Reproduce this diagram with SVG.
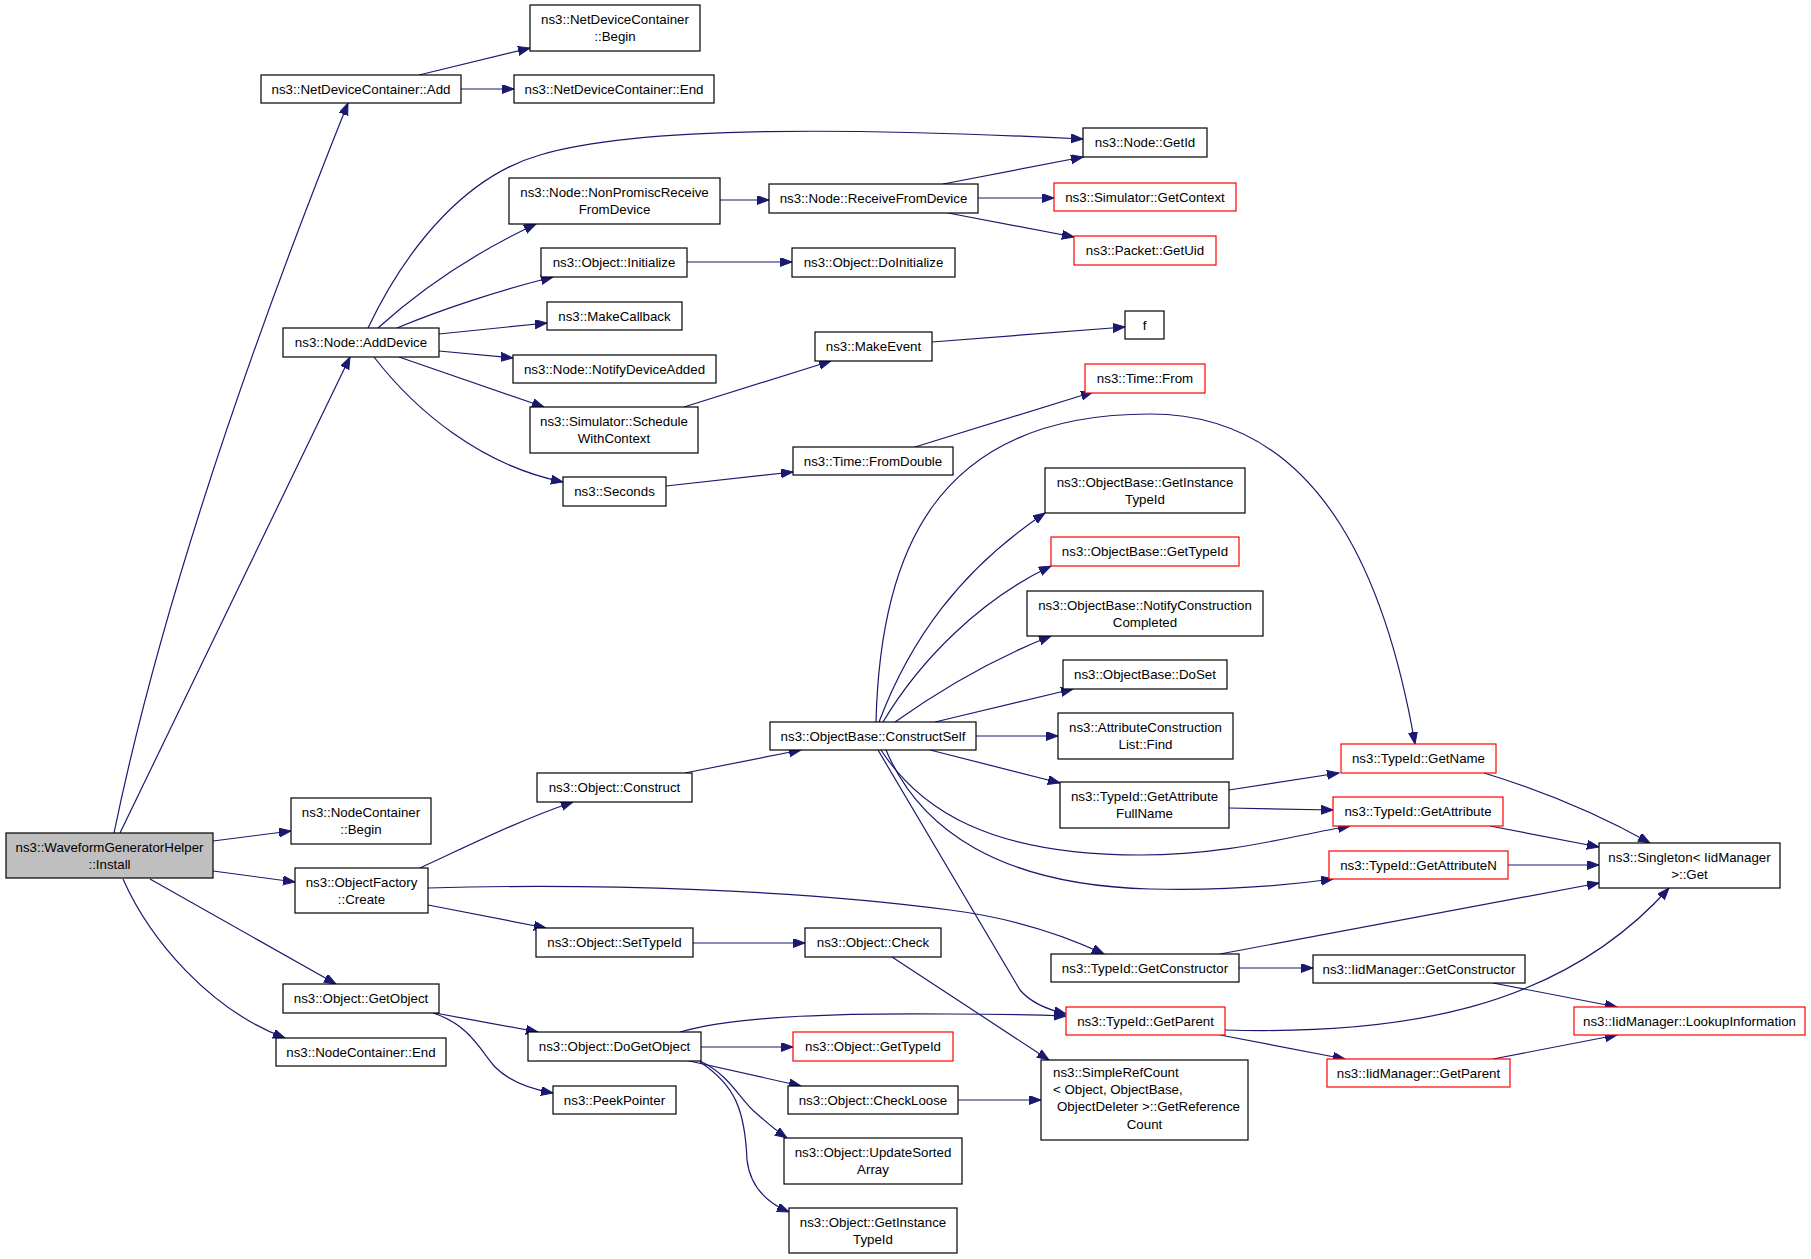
<svg xmlns="http://www.w3.org/2000/svg" width="1811" height="1259" viewBox="0 0 1811 1259">
<style>
rect{fill:#fff;stroke:#000;stroke-width:1.2}
rect.r{stroke:#ff0000}
rect.g{fill:#bfbfbf}
text{font-family:"Liberation Sans",Arial,sans-serif;font-size:13.3px;text-anchor:middle;fill:#000}
text.l{text-anchor:start}
#edges path{fill:none;stroke:#191970;stroke-width:1.2;marker-end:url(#a)}
</style>
<defs>
<marker id="a" markerWidth="13" markerHeight="10" refX="12" refY="4.5" orient="auto" markerUnits="userSpaceOnUse">
<path d="M0,0 L12,4.5 L0,9 z" fill="#191970" stroke="#191970" stroke-width="1"/>
</marker>
</defs>
<rect x="0" y="0" width="1811" height="1259" style="fill:#fff;stroke:none"/>
<g id="edges">
<path d="M114,833 C160,610 245,360 348,103"/>
<path d="M120,833 L350,357"/>
<path d="M213,841 L291,831"/>
<path d="M213,871 L295,882"/>
<path d="M150,879 L336,984"/>
<path d="M123,879 C150,940 210,1010 285,1038"/>
<path d="M368,328 C410,240 470,175 540,155 C640,125 860,128 1083,139"/>
<path d="M378,328 C420,290 470,255 536,224"/>
<path d="M397,328 C440,310 500,290 553,277"/>
<path d="M439,334 L547,323"/>
<path d="M439,351 L513,358"/>
<path d="M399,357 L544,407"/>
<path d="M374,357 C415,410 480,465 563,482"/>
<path d="M419,75 L530,48"/>
<path d="M461,89 L514,89"/>
<path d="M720,200 L769,200"/>
<path d="M943,184 L1083,157"/>
<path d="M978,198 L1054,198"/>
<path d="M948,213 L1074,237"/>
<path d="M687,262 L792,262"/>
<path d="M932,342 L1125,327"/>
<path d="M684,407 L831,361"/>
<path d="M666,486 L793,472"/>
<path d="M915,447 L1093,392"/>
<path d="M420,868 C470,845 520,820 573,802"/>
<path d="M428,905 L546,928"/>
<path d="M428,888 C600,883 800,890 950,910 C1020,919 1070,938 1104,954"/>
<path d="M685,773 L801,750"/>
<path d="M876,722 C880,560 930,414 1150,414 C1330,414 1390,600 1415,744"/>
<path d="M879,722 C910,640 960,570 1045,513"/>
<path d="M883,722 C920,660 980,600 1051,566"/>
<path d="M895,722 C940,690 990,660 1051,636"/>
<path d="M935,722 L1073,689"/>
<path d="M976,736 L1058,736"/>
<path d="M930,750 L1060,783"/>
<path d="M881,750 C920,810 990,855 1140,855 C1230,855 1290,836 1350,826"/>
<path d="M886,750 C920,830 1000,885 1150,889 C1230,891 1290,885 1333,879"/>
<path d="M878,750 L1020,990 C1030,1002 1045,1009 1066,1014"/>
<path d="M1229,790 L1339,773"/>
<path d="M1229,808 L1333,810"/>
<path d="M1484,773 C1540,790 1600,815 1650,843"/>
<path d="M1490,826 L1599,847"/>
<path d="M1508,865 L1599,865"/>
<path d="M1220,954 L1599,883"/>
<path d="M1239,968 L1313,968"/>
<path d="M1225,1030 C1400,1035 1560,1010 1669,888"/>
<path d="M1220,1035 L1345,1059"/>
<path d="M1493,983 L1617,1007"/>
<path d="M1493,1059 L1617,1035"/>
<path d="M693,943 L805,943"/>
<path d="M892,957 L1049,1060"/>
<path d="M435,1013 L538,1032"/>
<path d="M433,1013 C470,1025 480,1050 495,1067 C510,1082 530,1089 553,1093"/>
<path d="M680,1032 C740,1015 850,1013 950,1014 C1000,1014 1040,1015 1066,1016"/>
<path d="M701,1047 L793,1047"/>
<path d="M685,1060 L801,1086"/>
<path d="M700,1061 C730,1075 740,1100 756,1113 C766,1122 775,1130 787,1138"/>
<path d="M700,1062 C735,1085 745,1110 747,1160 C750,1185 765,1202 789,1212"/>
<path d="M958,1100 L1041,1100"/>
</g>
<g id="n1"><rect class="g" x="6" y="833" width="207" height="45"/><text x="109.5" y="851.6">ns3::WaveformGeneratorHelper</text><text x="109.5" y="868.8">::Install</text></g>
<g id="n2"><rect x="261" y="75" width="200" height="28"/><text x="361" y="93.7">ns3::NetDeviceContainer::Add</text></g>
<g id="n3"><rect x="530" y="5" width="170" height="46"/><text x="615" y="24.1">ns3::NetDeviceContainer</text><text x="615" y="41.3">::Begin</text></g>
<g id="n4"><rect x="514" y="75" width="200" height="28"/><text x="614" y="93.7">ns3::NetDeviceContainer::End</text></g>
<g id="n5"><rect x="283" y="328" width="156" height="29"/><text x="361" y="347.2">ns3::Node::AddDevice</text></g>
<g id="n6"><rect x="1083" y="128" width="124" height="29"/><text x="1145" y="147.2">ns3::Node::GetId</text></g>
<g id="n7"><rect x="509" y="178" width="211" height="46"/><text x="614.5" y="197.1">ns3::Node::NonPromiscReceive</text><text x="614.5" y="214.3">FromDevice</text></g>
<g id="n8"><rect x="769" y="184" width="209" height="29"/><text x="873.5" y="203.2">ns3::Node::ReceiveFromDevice</text></g>
<g id="n9"><rect class="r" x="1054" y="183" width="182" height="28"/><text x="1145" y="201.7">ns3::Simulator::GetContext</text></g>
<g id="n10"><rect class="r" x="1074" y="236" width="142" height="29"/><text x="1145" y="255.2">ns3::Packet::GetUid</text></g>
<g id="n11"><rect x="541" y="248" width="146" height="29"/><text x="614" y="267.2">ns3::Object::Initialize</text></g>
<g id="n12"><rect x="792" y="248" width="163" height="29"/><text x="873.5" y="267.2">ns3::Object::DoInitialize</text></g>
<g id="n13"><rect x="547" y="302" width="135" height="28"/><text x="614.5" y="320.7">ns3::MakeCallback</text></g>
<g id="n14"><rect x="1125" y="311" width="39" height="28"/><text x="1144.5" y="329.7">f</text></g>
<g id="n15"><rect x="815" y="332" width="117" height="29"/><text x="873.5" y="351.2">ns3::MakeEvent</text></g>
<g id="n16"><rect x="513" y="355" width="203" height="28"/><text x="614.5" y="373.7">ns3::Node::NotifyDeviceAdded</text></g>
<g id="n17"><rect class="r" x="1085" y="364" width="120" height="29"/><text x="1145" y="383.2">ns3::Time::From</text></g>
<g id="n18"><rect x="530" y="407" width="168" height="46"/><text x="614" y="426.1">ns3::Simulator::Schedule</text><text x="614" y="443.3">WithContext</text></g>
<g id="n19"><rect x="793" y="447" width="160" height="28"/><text x="873" y="465.7">ns3::Time::FromDouble</text></g>
<g id="n20"><rect x="563" y="477" width="103" height="29"/><text x="614.5" y="496.2">ns3::Seconds</text></g>
<g id="n21"><rect x="1045" y="468" width="200" height="45"/><text x="1145" y="486.6">ns3::ObjectBase::GetInstance</text><text x="1145" y="503.8">TypeId</text></g>
<g id="n22"><rect class="r" x="1051" y="537" width="188" height="29"/><text x="1145" y="556.2">ns3::ObjectBase::GetTypeId</text></g>
<g id="n23"><rect x="1027" y="591" width="236" height="45"/><text x="1145" y="609.6">ns3::ObjectBase::NotifyConstruction</text><text x="1145" y="626.8">Completed</text></g>
<g id="n24"><rect x="1063" y="660" width="164" height="29"/><text x="1145" y="679.2">ns3::ObjectBase::DoSet</text></g>
<g id="n25"><rect x="1058" y="713" width="175" height="46"/><text x="1145.5" y="732.1">ns3::AttributeConstruction</text><text x="1145.5" y="749.3">List::Find</text></g>
<g id="n26"><rect x="770" y="722" width="206" height="28"/><text x="873" y="740.7">ns3::ObjectBase::ConstructSelf</text></g>
<g id="n27"><rect class="r" x="1341" y="744" width="155" height="29"/><text x="1418.5" y="763.2">ns3::TypeId::GetName</text></g>
<g id="n28"><rect x="1060" y="782" width="169" height="46"/><text x="1144.5" y="801.1">ns3::TypeId::GetAttribute</text><text x="1144.5" y="818.3">FullName</text></g>
<g id="n29"><rect x="537" y="773" width="155" height="29"/><text x="614.5" y="792.2">ns3::Object::Construct</text></g>
<g id="n30"><rect class="r" x="1333" y="797" width="170" height="29"/><text x="1418" y="816.2">ns3::TypeId::GetAttribute</text></g>
<g id="n31"><rect x="291" y="798" width="140" height="46"/><text x="361" y="817.1">ns3::NodeContainer</text><text x="361" y="834.3">::Begin</text></g>
<g id="n32"><rect x="1599" y="843" width="181" height="45"/><text x="1689.5" y="861.6">ns3::Singleton&lt; IidManager</text><text x="1689.5" y="878.8">&gt;::Get</text></g>
<g id="n33"><rect class="r" x="1329" y="851" width="179" height="28"/><text x="1418.5" y="869.7">ns3::TypeId::GetAttributeN</text></g>
<g id="n34"><rect x="295" y="868" width="133" height="45"/><text x="361.5" y="886.6">ns3::ObjectFactory</text><text x="361.5" y="903.8">::Create</text></g>
<g id="n35"><rect x="536" y="928" width="157" height="29"/><text x="614.5" y="947.2">ns3::Object::SetTypeId</text></g>
<g id="n36"><rect x="805" y="928" width="136" height="29"/><text x="873" y="947.2">ns3::Object::Check</text></g>
<g id="n37"><rect x="1051" y="954" width="188" height="28"/><text x="1145" y="972.7">ns3::TypeId::GetConstructor</text></g>
<g id="n38"><rect x="1313" y="955" width="212" height="28"/><text x="1419" y="973.7">ns3::IidManager::GetConstructor</text></g>
<g id="n39"><rect x="283" y="984" width="156" height="29"/><text x="361" y="1003.2">ns3::Object::GetObject</text></g>
<g id="n40"><rect class="r" x="1066" y="1007" width="159" height="28"/><text x="1145.5" y="1025.7">ns3::TypeId::GetParent</text></g>
<g id="n41"><rect class="r" x="1574" y="1007" width="231" height="28"/><text x="1689.5" y="1025.7">ns3::IidManager::LookupInformation</text></g>
<g id="n42"><rect x="276" y="1038" width="170" height="28"/><text x="361" y="1056.7">ns3::NodeContainer::End</text></g>
<g id="n43"><rect x="528" y="1032" width="173" height="29"/><text x="614.5" y="1051.2">ns3::Object::DoGetObject</text></g>
<g id="n44"><rect class="r" x="793" y="1032" width="160" height="29"/><text x="873" y="1051.2">ns3::Object::GetTypeId</text></g>
<g id="n45"><rect class="r" x="1327" y="1059" width="183" height="28"/><text x="1418.5" y="1077.7">ns3::IidManager::GetParent</text></g>
<g id="n46"><rect x="1041" y="1060" width="207" height="80"/><text class="l" x="1053" y="1076.7">ns3::SimpleRefCount</text><text class="l" x="1053" y="1094">&lt; Object, ObjectBase,</text><text class="l" x="1057" y="1111.3">ObjectDeleter &gt;::GetReference</text><text x="1144.5" y="1128.6">Count</text></g>
<g id="n47"><rect x="788" y="1086" width="170" height="28"/><text x="873" y="1104.7">ns3::Object::CheckLoose</text></g>
<g id="n48"><rect x="553" y="1086" width="123" height="28"/><text x="614.5" y="1104.7">ns3::PeekPointer</text></g>
<g id="n49"><rect x="784" y="1138" width="178" height="46"/><text x="873" y="1157.1">ns3::Object::UpdateSorted</text><text x="873" y="1174.3">Array</text></g>
<g id="n50"><rect x="789" y="1208" width="168" height="45"/><text x="873" y="1226.6">ns3::Object::GetInstance</text><text x="873" y="1243.8">TypeId</text></g>
</svg>
